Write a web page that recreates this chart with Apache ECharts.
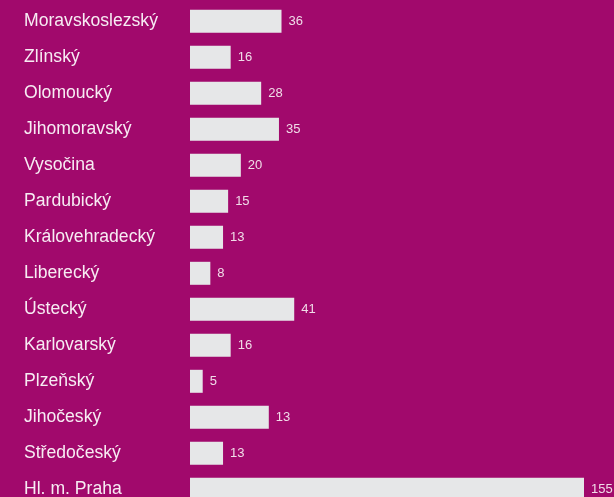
<!DOCTYPE html>
<html>
<head>
<meta charset="utf-8">
<script src="https://cdn.jsdelivr.net/npm/echarts@6/dist/echarts.min.js"></script>
<style>
html,body{margin:0;padding:0;background:#A1096C;overflow:hidden;}
#c{width:614px;height:508px;}
</style>
</head>
<body>
<div id="c"></div>
<script>
var categories = ["Moravskoslezský","Zlínský","Olomoucký","Jihomoravský","Vysočina","Pardubický","Královehradecký","Liberecký","Ústecký","Karlovarský","Plzeňský","Jihočeský","Středočeský","Hl. m. Praha"];
var barValues = [36,16,28,35,20,15,13,8,41,16,5,31,13,155];
var valueLabels = ["36","16","28","35","20","15","13","8","41","16","5","13","13","155"];

var chart = echarts.init(document.getElementById('c'), null, {renderer:'canvas'});
chart.setOption({
  backgroundColor: '#A1096C',
  animation: false,
  grid: {left: 190, right: 30, top: 3.3, bottom: 0.7, containLabel: false},
  xAxis: {type:'value', min:0, max:155, show:false},
  yAxis: {
    type:'category', data: categories, inverse: true,
    axisLine:{show:false}, axisTick:{show:false}, splitLine:{show:false},
    axisLabel:{align:'left', margin:166, color:'#f7ecf3', fontSize:17.6, fontFamily:'Liberation Sans'}
  },
  series: [{
    type:'bar', data: barValues, barWidth: 23,
    itemStyle:{color:'#E6E7E8'},
    label:{show:true, position:'right', distance:7, color:'#f0dce8', fontSize:13, fontFamily:'Liberation Sans',
      formatter:function(p){return valueLabels[p.dataIndex];}}
  }]
});
</script>
</body>
</html>
